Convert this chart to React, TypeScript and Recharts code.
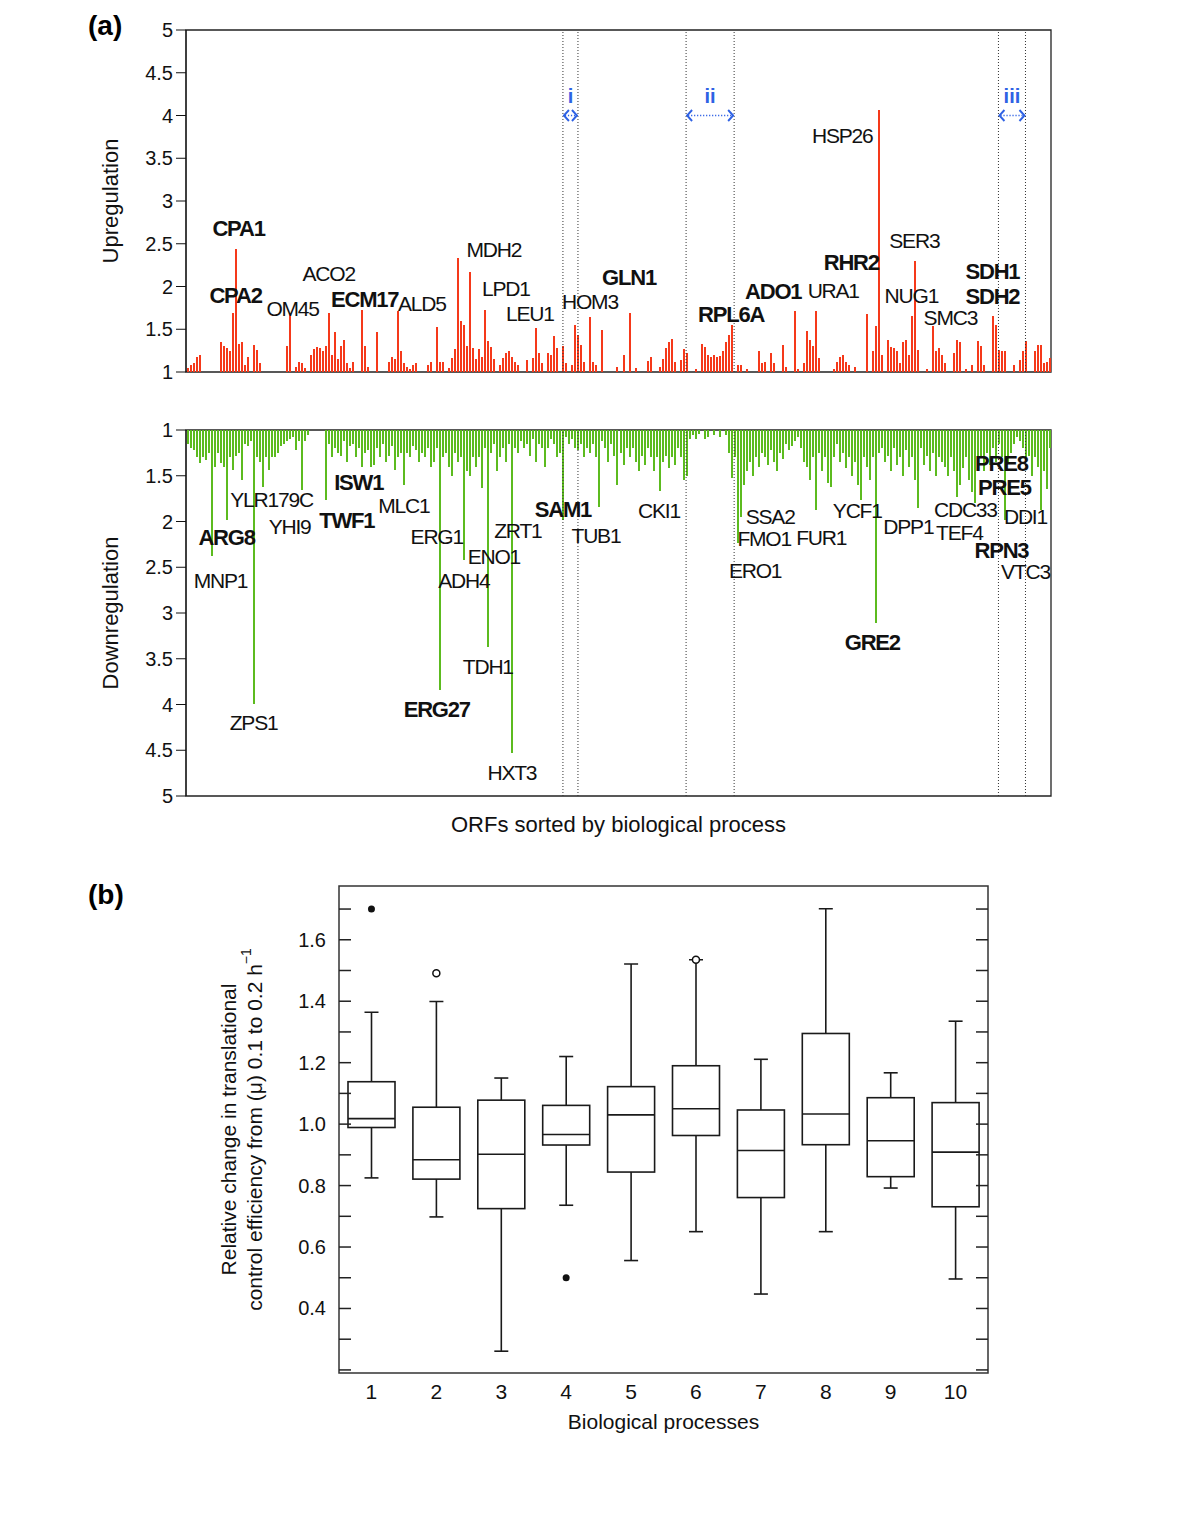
import React from 'react';
import {
  BarChart,
  Bar,
  ComposedChart,
  Scatter,
  XAxis,
  YAxis,
  ReferenceLine,
  ReferenceDot,
  ReferenceArea,
} from 'recharts';

const FONT = '"Liberation Sans", Arial, Helvetica, sans-serif';
const RED = '#f5391a';
const GREEN = '#5cbb1f';
const BLUE = '#2f62e4';
const INK = '#111';

// (a) fold change of each ORF slot, left to right (1 = unchanged)
const upValues = [
  1.05, 1.08, 1.1, 1.18, 1.2, 1, 1, 1, 1, 1, 1, 1.35,
  1.3, 1.28, 1.25, 1.69, 2.44, 1.33, 1.35, 1.08, 1.18, 1, 1.31, 1.26,
  1.1, 1, 1, 1, 1, 1, 1, 1, 1, 1.3, 1.69, 1,
  1.06, 1.12, 1.1, 1.05, 1, 1.2, 1.27, 1.29, 1.28, 1.25, 1.3, 1.69,
  1.2, 1.47, 1.15, 1.3, 1.38, 1.1, 1.05, 1.12, 1, 1, 1.72, 1.3,
  1.06, 1, 1, 1.47, 1, 1, 1, 1.12, 1.18, 1.15, 1.71, 1.24,
  1.1, 1.06, 1.04, 1.08, 1.1, 1, 1, 1, 1.08, 1.12, 1, 1.53,
  1.12, 1.12, 1, 1.05, 1.16, 1.27, 2.33, 1.6, 1.55, 1.3, 2.17, 1.28,
  1.15, 1.27, 1.18, 1.72, 1.36, 1.29, 1.15, 1, 1.08, 1.16, 1.22, 1.24,
  1.18, 1.12, 1.08, 1, 1, 1.14, 1, 1.16, 1.51, 1.22, 1.1, 1,
  1.22, 1.2, 1.42, 1.28, 1, 1.3, 1.1, 1, 1.08, 1.55, 1.43, 1.31,
  1.12, 1, 1.64, 1.12, 1.08, 1, 1.49, 1, 1, 1, 1, 1.06,
  1, 1.2, 1, 1.69, 1, 1.05, 1, 1, 1, 1.13, 1.18, 1,
  1, 1.06, 1.15, 1.28, 1.35, 1.39, 1.12, 1, 1.14, 1.27, 1.22, 1,
  1, 1.04, 1, 1.33, 1.29, 1.2, 1.18, 1.2, 1.17, 1.19, 1.25, 1.35,
  1.43, 1.55, 1, 1.08, 1.08, 1, 1.04, 1, 1, 1, 1.24, 1.1,
  1.12, 1, 1.22, 1.1, 1, 1, 1.32, 1.06, 1, 1, 1.71, 1.04,
  1, 1.1, 1.48, 1.37, 1.3, 1.71, 1.16, 1, 1, 1, 1, 1.04,
  1.12, 1.18, 1.2, 1.12, 1.08, 1, 1.06, 1, 1, 1, 1.68, 1,
  1.24, 1.54, 4.06, 1.2, 1, 1.37, 1.29, 1.28, 1.24, 1.1, 1.35, 1.37,
  1.2, 1.66, 2.3, 1.26, 1, 1, 1.04, 1, 1.54, 1.24, 1.28, 1.2,
  1.1, 1, 1, 1.22, 1.37, 1.35, 1, 1.04, 1, 1.08, 1, 1.36,
  1.3, 1.08, 1, 1, 1.66, 1.55, 1.26, 1.24, 1.24, 1, 1, 1.08,
  1, 1.14, 1.24, 1.36, 1, 1, 1.24, 1.32, 1.31, 1.1, 1.12, 1.16,
];

const downValues = [
  1.15, 1.2, 1.22, 1.3, 1.36, 1.3, 1.33, 1.25, 2.38, 1.4, 1.25, 1.36,
  1.4, 1.98, 1.3, 1.44, 1.28, 1.25, 1.55, 1.15, 1.18, 1.12, 3.99, 1.3,
  1.35, 1.62, 1.3, 1.44, 1.3, 1.29, 1.25, 1.18, 1.15, 1.12, 1.1, 1.08,
  1.22, 1.12, 1.66, 1.12, 1.06, 1, 1, 1, 1, 1, 1.77, 1.15,
  1.3, 1.2, 1.25, 1.28, 1.12, 1.35, 1.18, 1.15, 1.3, 1.2, 1.4, 1.25,
  1.22, 1.4, 1.38, 1.2, 1.3, 1.15, 1.35, 1.28, 1.18, 1.44, 1.3, 1.25,
  1.6, 1.25, 1.3, 1.18, 1.22, 1.35, 1.25, 1.3, 1.2, 1.4, 1.35, 1.2,
  3.84, 1.3, 1.25, 1.4, 1.5, 1.25, 1.35, 1.3, 2.42, 1.45, 1.5, 1.3,
  1.4, 1.3, 1.63, 1.2, 3.37, 1.25, 1.15, 1.45, 1.3, 1.2, 1.35, 1.15,
  4.53, 1.2, 1.25, 1.12, 1.2, 1.15, 1.28, 1.1, 1.35, 1.15, 1.2, 1.4,
  1.2, 1.1, 1.15, 1.3, 1.25, 1.98, 1.08, 1.15, 1.1, 1.2, 1.22, 1.15,
  1.3, 1.2, 1.25, 1.15, 1.3, 1.84, 1.12, 1.2, 1.35, 1.15, 1.28, 1.6,
  1.25, 1.38, 1.2, 1.3, 1.2, 1.35, 1.45, 1.28, 1.38, 1.2, 1.3, 1.45,
  1.3, 1.67, 1.35, 1.28, 1.42, 1.3, 1.38, 1.2, 1.3, 1.55, 1.5, 1.1,
  1.06, 1.1, 1.04, 1, 1.1, 1.08, 1, 1.06, 1, 1.08, 1, 1.05,
  1.25, 1.52, 1.3, 2.24, 1.95, 1.6, 1.45, 1.35, 1.5, 1.3, 1.4, 1.25,
  1.3, 1.38, 1.22, 1.35, 1.45, 1.25, 1.32, 1.15, 1.22, 1.18, 1.12, 1.08,
  1.2, 1.35, 1.4, 1.55, 1.3, 1.87, 1.25, 1.45, 1.3, 1.58, 1.62, 1.3,
  1.15, 1.35, 1.25, 1.42, 1.3, 1.5, 1.35, 1.6, 1.77, 1.3, 1.4, 1.55,
  1.3, 3.11, 1.25, 1.2, 1.35, 1.28, 1.45, 1.2, 1.38, 1.3, 1.5, 1.22,
  1.4, 1.3, 1.55, 1.85, 1.2, 1.38, 1.28, 1.45, 1.25, 1.5, 1.3, 1.35,
  1.4, 1.5, 1.3, 1.45, 1.73, 1.6, 1.42, 1.3, 1.55, 1.68, 1.8, 1.35,
  1.3, 1.45, 1.25, 1.38, 1.2, 1.35, 1.15, 1.3, 1.98, 1.35, 1.25, 1.15,
  1.08, 1.12, 1.2, 1.3, 1.28, 1.5, 1.3, 1.4, 1.87, 1.45, 1.65, 1.2,
];

const foldTicks = [1, 1.5, 2, 2.5, 3, 3.5, 4, 4.5, 5];

// dotted group borders (slot index) and the marked groups i, ii, iii
const groupLines = [125, 130, 166, 182, 270, 279];
const groupSpans = [
  { tag: 'i', from: 125, to: 130 },
  { tag: 'ii', from: 166, to: 182 },
  { tag: 'iii', from: 270, to: 279 },
];
const spanLevel = 4;

// gene names, anchored at (slot, fold change)
const upGenes = [
  { name: 'CPA1', slot: 17, at: 2.68, bold: true },
  { name: 'CPA2', slot: 16, at: 1.9, bold: true },
  { name: 'OM45', slot: 35, at: 1.745, bold: false },
  { name: 'ACO2', slot: 47, at: 2.15, bold: false },
  { name: 'ECM17', slot: 59, at: 1.85, bold: true },
  { name: 'ALD5', slot: 78, at: 1.8, bold: false },
  { name: 'MDH2', slot: 102, at: 2.43, bold: false },
  { name: 'LPD1', slot: 106, at: 1.98, bold: false },
  { name: 'LEU1', slot: 114, at: 1.69, bold: false },
  { name: 'HOM3', slot: 134, at: 1.82, bold: false },
  { name: 'GLN1', slot: 147, at: 2.1, bold: true },
  { name: 'RPL6A', slot: 181, at: 1.67, bold: true },
  { name: 'ADO1', slot: 195, at: 1.94, bold: true },
  { name: 'URA1', slot: 215, at: 1.95, bold: false },
  { name: 'HSP26', slot: 218, at: 3.77, bold: false },
  { name: 'RHR2', slot: 221, at: 2.28, bold: true },
  { name: 'SER3', slot: 242, at: 2.54, bold: false },
  { name: 'NUG1', slot: 241, at: 1.89, bold: false },
  { name: 'SMC3', slot: 254, at: 1.64, bold: false },
  { name: 'SDH1', slot: 268, at: 2.18, bold: true },
  { name: 'SDH2', slot: 268, at: 1.88, bold: true },
];

const downGenes = [
  { name: 'ARG8', slot: 13, at: 2.18, bold: true },
  { name: 'MNP1', slot: 11, at: 2.65, bold: false },
  { name: 'YLR179C', slot: 28, at: 1.76, bold: false },
  { name: 'YHI9', slot: 34, at: 2.06, bold: false },
  { name: 'ISW1', slot: 57, at: 1.57, bold: true },
  { name: 'TWF1', slot: 53, at: 1.99, bold: true },
  { name: 'MLC1', slot: 72, at: 1.83, bold: false },
  { name: 'ERG1', slot: 83, at: 2.16, bold: false },
  { name: 'ZPS1', slot: 22, at: 4.2, bold: false },
  { name: 'ERG27', slot: 83, at: 4.05, bold: true },
  { name: 'ADH4', slot: 92, at: 2.65, bold: false },
  { name: 'ENO1', slot: 102, at: 2.38, bold: false },
  { name: 'ZRT1', slot: 110, at: 2.1, bold: false },
  { name: 'TDH1', slot: 100, at: 3.59, bold: false },
  { name: 'HXT3', slot: 108, at: 4.74, bold: false },
  { name: 'SAM1', slot: 125, at: 1.87, bold: true },
  { name: 'TUB1', slot: 136, at: 2.15, bold: false },
  { name: 'CKI1', slot: 157, at: 1.88, bold: false },
  { name: 'SSA2', slot: 194, at: 1.94, bold: false },
  { name: 'FMO1', slot: 192, at: 2.19, bold: false },
  { name: 'ERO1', slot: 189, at: 2.54, bold: false },
  { name: 'FUR1', slot: 211, at: 2.17, bold: false },
  { name: 'YCF1', slot: 223, at: 1.88, bold: false },
  { name: 'GRE2', slot: 228, at: 3.32, bold: true },
  { name: 'DPP1', slot: 240, at: 2.05, bold: false },
  { name: 'CDC33', slot: 259, at: 1.87, bold: false },
  { name: 'TEF4', slot: 257, at: 2.12, bold: false },
  { name: 'PRE8', slot: 271, at: 1.37, bold: true },
  { name: 'PRE5', slot: 272, at: 1.63, bold: true },
  { name: 'DDI1', slot: 279, at: 1.95, bold: false },
  { name: 'RPN3', slot: 271, at: 2.32, bold: true },
  { name: 'VTC3', slot: 279, at: 2.55, bold: false },
];

// (b) box plot per biological process
const processes = ['1', '2', '3', '4', '5', '6', '7', '8', '9', '10'];
const boxLow = [0.825, 0.698, 0.261, 0.736, 0.556, 0.65, 0.447, 0.65, 0.792, 0.496];
const boxQ1 = [0.989, 0.821, 0.725, 0.932, 0.844, 0.963, 0.761, 0.933, 0.829, 0.731];
const boxMedian = [1.018, 0.884, 0.902, 0.966, 1.03, 1.05, 0.914, 1.033, 0.946, 0.909];
const boxQ3 = [1.138, 1.055, 1.078, 1.061, 1.122, 1.19, 1.046, 1.295, 1.086, 1.07];
const boxHigh = [1.364, 1.399, 1.15, 1.22, 1.521, 1.535, 1.211, 1.701, 1.167, 1.335];
const farOutliers = [1.7, null, null, 0.5, null, null, null, null, null, null];
const nearOutliers = [null, 1.491, null, null, null, 1.535, null, null, null, null];

const boxDomain = [0.19, 1.775];
const boxTicks = [0.2, 0.3, 0.4, 0.5, 0.6, 0.7, 0.8, 0.9, 1.0, 1.1, 1.2, 1.3, 1.4, 1.5, 1.6, 1.7];
const boxTickLabels = [0.4, 0.6, 0.8, 1.0, 1.2, 1.4, 1.6];

const orfData = upValues.map((up, i) => ({ slot: i, up, down: downValues[i] }));
const lastSlot = orfData.length - 1;

const boxData = processes.map((proc, i) => ({
  proc,
  lo: boxLow[i],
  q1: boxQ1[i],
  med: boxMedian[i],
  q3: boxQ3[i],
  hi: boxHigh[i],
  far: farOutliers[i],
  near: nearOutliers[i],
}));

const geneText = (name: string, bold: boolean) => (p: any) => (
  <text
    x={p.cx}
    y={p.cy}
    textAnchor="middle"
    dominantBaseline="central"
    fontSize={bold ? 22 : 21}
    fontWeight={bold ? 700 : 400}
    letterSpacing={-1.2}
    fill={INK}
  >
    {name}
  </text>
);

const spanArrow = (tag: string) => (p: any) => {
  const { x1, y1, x2 } = p;
  const h = 5.5;
  return (
    <g stroke={BLUE} fill="none" strokeWidth={1.9}>
      <line x1={x1 + 2} y1={y1} x2={x2 - 2} y2={y1} strokeDasharray="1.2 1.8" strokeWidth={1.6} />
      <polyline points={`${x1 + 6},${y1 - h} ${x1 + 1},${y1} ${x1 + 6},${y1 + h}`} />
      <polyline points={`${x2 - 6},${y1 - h} ${x2 - 1},${y1} ${x2 - 6},${y1 + h}`} />
      <text
        x={(x1 + x2) / 2}
        y={y1 - 13}
        textAnchor="middle"
        stroke="none"
        fill={BLUE}
        fontSize={20}
        fontWeight={700}
      >
        {tag}
      </text>
    </g>
  );
};

const sideTitle = (text: string, dx: number) => (props: any) => {
  const vb = props.viewBox ?? props;
  const cx = vb.x + dx;
  const cy = vb.y + vb.height / 2;
  return (
    <text
      x={cx}
      y={cy}
      transform={`rotate(-90 ${cx} ${cy})`}
      textAnchor="middle"
      dominantBaseline="central"
      fontSize={22}
      fill={INK}
    >
      {text}
    </text>
  );
};

const bottomTitle = (text: string, dy: number, size: number) => (props: any) => {
  const vb = props.viewBox ?? props;
  return (
    <text
      x={vb.x + vb.width / 2}
      y={vb.y + dy}
      textAnchor="middle"
      dominantBaseline="central"
      fontSize={size}
      fill={INK}
    >
      {text}
    </text>
  );
};

const boxYTitle = (props: any) => {
  const vb = props.viewBox ?? props;
  const cy = vb.y + vb.height / 2;
  const x1 = vb.x + 19;
  const x2 = vb.x + 45;
  return (
    <g fill={INK} fontSize={21}>
      <text x={x1} y={cy} transform={`rotate(-90 ${x1} ${cy})`} textAnchor="middle" dominantBaseline="central">
        Relative change in translational
      </text>
      <text x={x2} y={cy} transform={`rotate(-90 ${x2} ${cy})`} textAnchor="middle" dominantBaseline="central">
        control efficiency from (μ) 0.1 to 0.2 h
        <tspan dy={-8} fontSize={14}>−1</tspan>
      </text>
    </g>
  );
};

const LeftTick = (p: any) => {
  const v = p.payload.value;
  const edge = p.x + 13;
  const labelled = boxTickLabels.some((t) => Math.abs(t - v) < 1e-6);
  return (
    <g>
      <line x1={edge} x2={edge + 12} y1={p.y} y2={p.y} stroke="#222" strokeWidth={1.5} />
      {labelled && (
        <text x={p.x} y={p.y} textAnchor="end" dominantBaseline="central" fontSize={20} fill={INK}>
          {v.toFixed(1)}
        </text>
      )}
    </g>
  );
};

const RightTick = (p: any) => (
  <line x1={p.x - 12} x2={p.x} y1={p.y} y2={p.y} stroke="#222" strokeWidth={1.5} />
);

const BoxShape = (p: any) => {
  const { x, y, width, height, payload } = p;
  const { lo, q1, med, q3, hi } = payload;
  const at = (v: number) => y + (height * (hi - v)) / (hi - lo);
  const cx = x + width / 2;
  const cap = 7;
  return (
    <g stroke="#1a1a1a" strokeWidth={1.6} fill="none">
      <line x1={cx} x2={cx} y1={at(hi)} y2={at(q3)} />
      <line x1={cx} x2={cx} y1={at(q1)} y2={at(lo)} />
      <line x1={cx - cap} x2={cx + cap} y1={at(hi)} y2={at(hi)} />
      <line x1={cx - cap} x2={cx + cap} y1={at(lo)} y2={at(lo)} />
      <rect x={x} y={at(q3)} width={width} height={at(q1) - at(q3)} fill="#fff" />
      <line x1={x} x2={x + width} y1={at(med)} y2={at(med)} />
    </g>
  );
};

const FarDot = (p: any) =>
  p.payload.far == null ? <g /> : <circle cx={p.cx} cy={p.cy} r={3.5} fill={INK} />;

const NearDot = (p: any) =>
  p.payload.near == null ? (
    <g />
  ) : (
    <circle cx={p.cx} cy={p.cy} r={3.5} fill="#fff" stroke={INK} strokeWidth={1.5} />
  );

const foldAxisProps = {
  domain: [1, 5] as [number, number],
  ticks: foldTicks,
  width: 86,
  tickSize: 10,
  tickMargin: 3,
  tick: { fill: INK, fontSize: 20 },
  tickLine: { stroke: INK },
  axisLine: { stroke: INK },
  allowDataOverflow: true,
};

const App: React.FC = () => {
  return (
    <div
      style={{
        position: 'absolute',
        left: 0,
        top: 0,
        width: 1200,
        height: 1529,
        background: '#fff',
        fontFamily: FONT,
      }}
    >
      <div style={{ position: 'absolute', left: 88, top: 12, fontSize: 28, fontWeight: 700, lineHeight: 1 }}>(a)</div>
      <div style={{ position: 'absolute', left: 88, top: 881, fontSize: 28, fontWeight: 700, lineHeight: 1 }}>(b)</div>

      <div style={{ position: 'absolute', left: 0, top: 0 }}>
        <BarChart
          width={1200}
          height={400}
          data={orfData}
          margin={{ top: 30, right: 149, bottom: 28, left: 100 }}
          barCategoryGap={0}
        >
          <XAxis dataKey="slot" hide />
          <YAxis {...foldAxisProps} label={sideTitle('Upregulation', 10)} />
          <ReferenceArea x1={0} x2={lastSlot} y1={1} y2={5} fill="none" stroke="#222" strokeWidth={1.3} />
          {groupLines.map((s) => (
            <ReferenceLine key={s} x={s} stroke="#333" strokeDasharray="1 2" />
          ))}
          {groupSpans.map((g) => (
            <ReferenceLine
              key={g.tag}
              segment={[
                { x: g.from, y: spanLevel },
                { x: g.to, y: spanLevel },
              ]}
              shape={spanArrow(g.tag)}
            />
          ))}
          <Bar dataKey="up" fill={RED} barSize={2} shapeRendering="crispEdges" isAnimationActive={false} />
          {upGenes.map((g) => (
            <ReferenceDot key={g.name} x={g.slot} y={g.at} r={1} shape={geneText(g.name, g.bold)} />
          ))}
        </BarChart>
      </div>

      <div style={{ position: 'absolute', left: 0, top: 400 }}>
        <BarChart
          width={1200}
          height={440}
          data={orfData}
          margin={{ top: 30, right: 149, bottom: 4, left: 100 }}
          barCategoryGap={0}
        >
          <XAxis
            dataKey="slot"
            tick={false}
            tickLine={false}
            axisLine={false}
            height={40}
            label={bottomTitle('ORFs sorted by biological process', 28, 22)}
          />
          <YAxis {...foldAxisProps} reversed label={sideTitle('Downregulation', 10)} />
          <ReferenceArea x1={0} x2={lastSlot} y1={1} y2={5} fill="none" stroke="#222" strokeWidth={1.3} />
          {groupLines.map((s) => (
            <ReferenceLine key={s} x={s} stroke="#333" strokeDasharray="1 2" />
          ))}
          <Bar dataKey="down" fill={GREEN} barSize={2} shapeRendering="crispEdges" isAnimationActive={false} />
          {downGenes.map((g) => (
            <ReferenceDot key={g.name} x={g.slot} y={g.at} r={1} shape={geneText(g.name, g.bold)} />
          ))}
        </BarChart>
      </div>

      <div style={{ position: 'absolute', left: 0, top: 860 }}>
        <ComposedChart
          width={1200}
          height={600}
          data={boxData}
          margin={{ top: 26, right: 211, bottom: 27, left: 209 }}
        >
          <XAxis
            dataKey="proc"
            tickLine={false}
            axisLine={false}
            tickSize={0}
            tickMargin={11}
            tick={{ fill: INK, fontSize: 21 }}
            height={60}
            label={bottomTitle('Biological processes', 48, 21)}
          />
          <YAxis
            yAxisId="l"
            domain={boxDomain}
            ticks={boxTicks}
            width={130}
            tickSize={0}
            tickMargin={13}
            axisLine={false}
            tickLine={false}
            tick={LeftTick}
            label={boxYTitle}
            allowDataOverflow
          />
          <YAxis
            yAxisId="r"
            orientation="right"
            domain={boxDomain}
            ticks={boxTicks}
            width={1}
            tickSize={0}
            tickMargin={0}
            axisLine={false}
            tickLine={false}
            tick={RightTick}
            allowDataOverflow
          />
          <ReferenceArea
            yAxisId="l"
            x1={processes[0]}
            x2={processes[processes.length - 1]}
            y1={boxDomain[0]}
            y2={boxDomain[1]}
            fill="none"
            stroke="#333"
            strokeWidth={1.5}
          />
          <Bar
            yAxisId="l"
            dataKey={(d: any) => [d.lo, d.hi]}
            barSize={47}
            shape={BoxShape}
            isAnimationActive={false}
          />
          <Scatter yAxisId="l" dataKey="far" shape={FarDot} isAnimationActive={false} />
          <Scatter yAxisId="l" dataKey="near" shape={NearDot} isAnimationActive={false} />
        </ComposedChart>
      </div>
    </div>
  );
};

export default App;
